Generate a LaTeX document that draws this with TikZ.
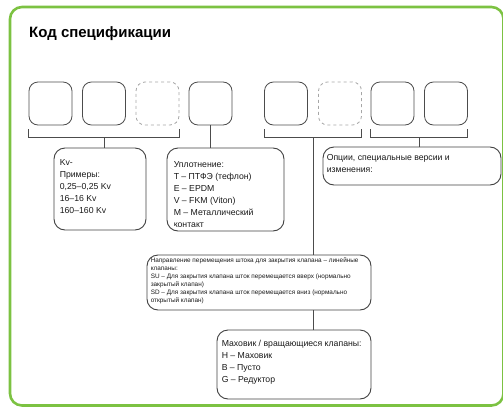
\documentclass[tikz,border=0pt]{standalone}
\usepackage{fontspec}
\setmainfont{Liberation Sans}
\usetikzlibrary{calc}
\definecolor{framegreen}{HTML}{7CC242}

\begin{document}
\begin{tikzpicture}[x=1pt, y=-1pt,
  slot/.style={draw=black!70, line width=0.8pt, rounded corners=9pt, minimum size=43pt, inner sep=0pt},
  optslot/.style={slot, draw=black!35, dashed},
  infobox/.style={draw=black!75, line width=0.9pt, rounded corners=11pt, inner sep=0pt},
  infotext/.style={anchor=north west, inner sep=0pt, align=left, text=black!90, font=\fontsize{8.7}{12}\selectfont},
  conn/.style={draw=black!70, line width=0.9pt}]
\useasboundingbox (0,0) rectangle (503,407);
\draw[line width=2.6pt, draw=framegreen, rounded corners=12pt] (10,7) rectangle (503.5,405.5);
\node[anchor=base west, inner sep=0pt, font=\fontsize{15}{18}\selectfont\bfseries] (title) at (29,37) {Код спецификации};
% code slots
\node[slot] (c1) at (50.5,103.5) {};
\node[slot] (c2) at (104,103.5) {};
\node[optslot] (c3) at (157.5,103.5) {};
\node[slot] (c4) at (210.5,103.5) {};
\node[slot] (c5) at (286,103.5) {};
\node[optslot] (c6) at (340,103.5) {};
\node[slot] (c7) at (392.5,103.5) {};
\node[slot] (c8) at (446,103.5) {};
% boxes
\node[infobox, minimum width=92pt, minimum height=82pt] (kv) at (100,189) {};
\node[infobox, minimum width=117pt, minimum height=83pt] (seal) at (225.5,189.5) {};
\node[infobox, minimum width=178pt, minimum height=38pt] (opt) at (412,166) {};
\node[infobox, minimum width=224pt, minimum height=55pt] (dir) at (259,282.5) {};
\node[infobox, minimum width=154pt, minimum height=69pt] (hw) at (294,364.5) {};
\node[infotext] (kvtext) at ([shift={(6pt,-12pt)}]kv.north west) {Kv-\\Примеры:\\0,25–0,25 Kv\\16–16 Kv\\160–160 Kv};
\begin{scope}
\clip[rounded corners=11pt] (seal.north west) rectangle ([yshift=5pt]seal.south east);
\node[infotext] (sealtext) at ([shift={(7pt,-14pt)}]seal.north west) {Уплотнение:\\T – ПТФЭ (тефлон)\\E – EPDM\\V – FKM (Viton)\\M – Металлический\\контакт};
\end{scope}
\node[infotext] (opttext) at ([shift={(4pt,-8pt)}]opt.north west) {Опции, специальные версии и\\изменения:};
\node[infotext, font=\fontsize{6.4}{8}\selectfont] (dirtext) at ([shift={(4pt,-3pt)}]dir.north west) {Направление перемещения штока для закрытия клапана – линейные\\клапаны:\\SU – Для закрытия клапана шток перемещается вверх (нормально\\закрытый клапан)\\SD – Для закрытия клапана шток перемещается вниз (нормально\\открытый клапан)};
\node[infotext] (hwtext) at ([shift={(5pt,-10pt)}]hw.north west) {Маховик / вращающиеся клапаны:\\H – Маховик\\B – Пусто\\G – Редуктор};
% brackets
\draw[conn] ([yshift=-4pt]c1.south west) -- ++(0,8) -| ([yshift=-4pt]c3.south east);
\draw[conn] ([yshift=-4pt]c5.south west) -- ++(0,8) -| ([yshift=-4pt]c6.south east);
\draw[conn] ([yshift=-4pt]c7.south west) -- ++(0,8) -| ([yshift=-4pt]c8.south east);
\coordinate (b1) at ($(c1.south west)!0.5!(c3.south east)+(0,12)$);
\coordinate (b2) at ($(c5.south west)!0.5!(c6.south east)+(0,12)$);
\coordinate (b3) at ($(c7.south west)!0.5!(c8.south east)+(0,12)$);
% connectors
\draw[conn] (b1) -- (b1 |- kv.north);
\draw[conn] (c4.south) -- (c4.south |- seal.north);
\draw[conn] (b3) -- (b3 |- opt.north);
\draw[conn] (b2) -- (b2 |- dir.north);
\draw[conn] (b2 |- dir.south) -- (b2 |- hw.north);
\end{tikzpicture}
\end{document}
